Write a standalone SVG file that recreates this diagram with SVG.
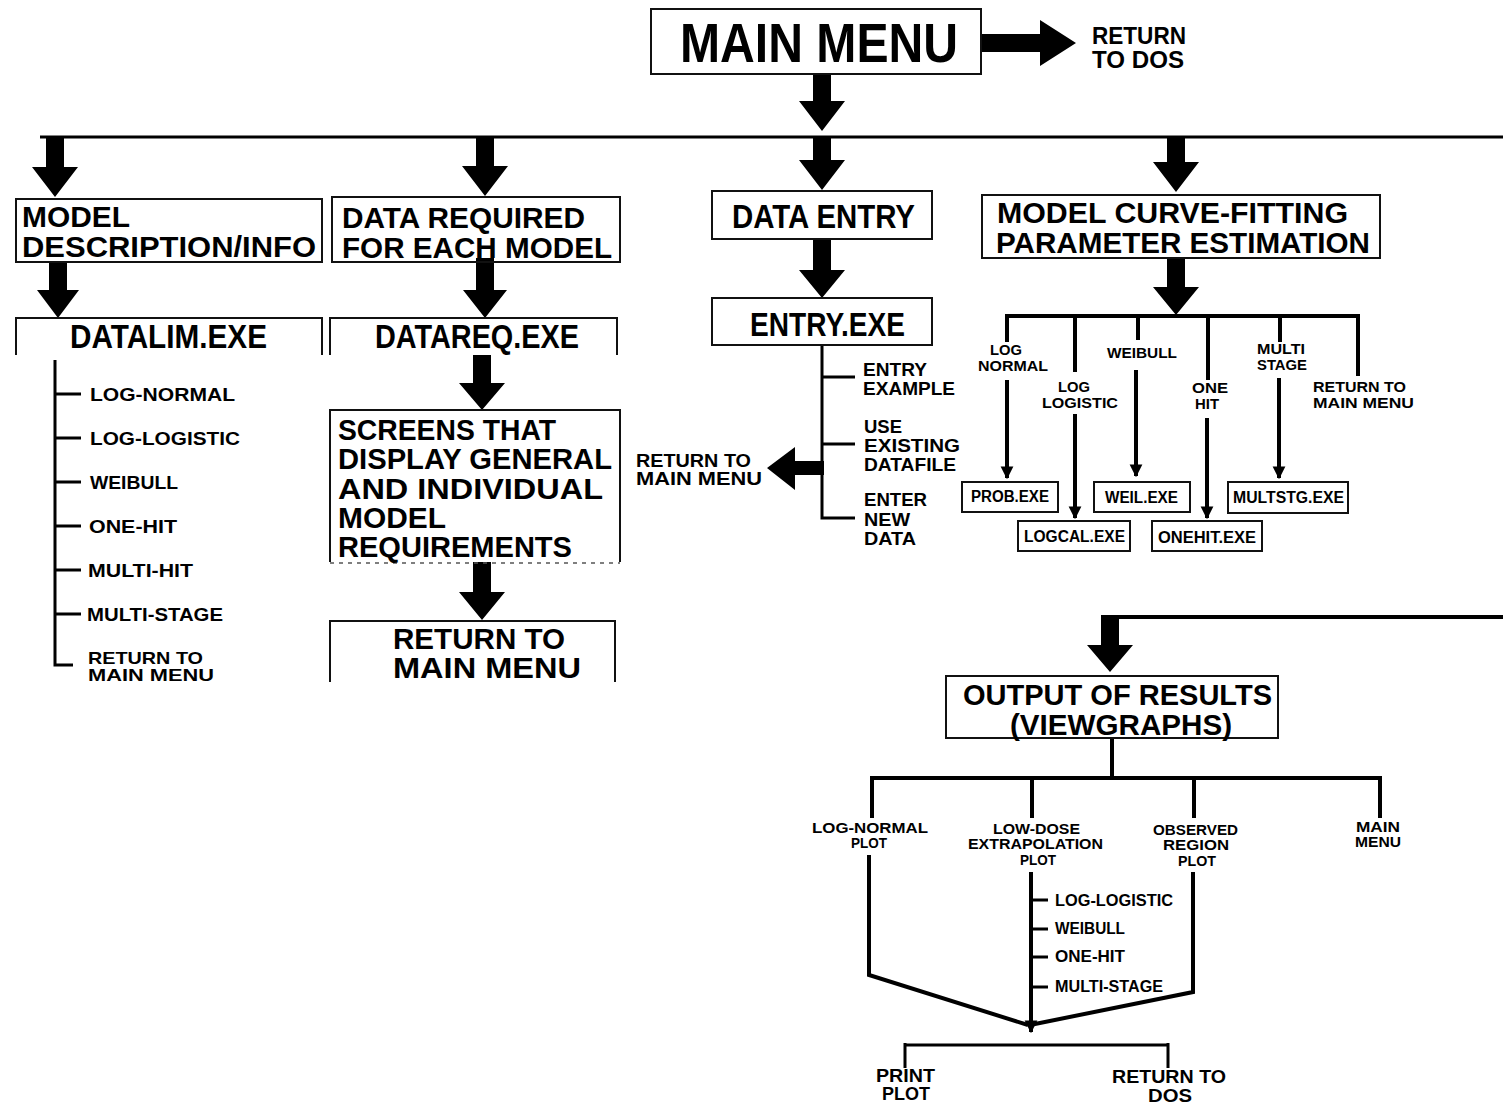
<svg xmlns="http://www.w3.org/2000/svg" width="1503" height="1105" viewBox="0 0 1503 1105">
<defs>
<style>
text{font-family:"Liberation Sans",Arial,sans-serif;font-weight:bold;fill:#000}
.box{fill:none;stroke:#111;stroke-width:2}
.dot{fill:none;stroke:#555;stroke-width:1.5;stroke-dasharray:4 5}
.fat{fill:#000;stroke:none}
.ln{fill:none;stroke:#000;stroke-width:3}
.ln4{fill:none;stroke:#000;stroke-width:4}
.h1{font-size:56px}
.h2{font-size:33px}
.h2b{font-size:29px}
.h3{font-size:24px}
.s19{font-size:19px}
.s18{font-size:18px}
.s17{font-size:17px}
.s16{font-size:16px}
.s15{font-size:15px}
</style>
<marker id="ah" viewBox="0 0 10 10" refX="9" refY="5" markerWidth="3.2" markerHeight="3.6" orient="auto" markerUnits="strokeWidth">
<path d="M0,0 L10,5 L0,10 Z" fill="#000"/>
</marker>
</defs>
<rect width="1503" height="1105" fill="#fff"/>

<g id="connectors">
<line class="ln" x1="40" y1="137" x2="1503" y2="137"/>
<path class="fat" d="M981,34 H1040 V20 L1076,43 L1040,66 V52 H981 Z"/>
<path class="fat" d="M813,74 H831 V101 H845 L822,131 L799,101 H813 Z"/>
<path class="fat" d="M46,137 H64 V167 H78 L55,197 L32,167 H46 Z"/>
<path class="fat" d="M476,137 H494 V166 H508 L485,196 L462,166 H476 Z"/>
<path class="fat" d="M813,137 H831 V160 H845 L822,190 L799,160 H813 Z"/>
<path class="fat" d="M1167,137 H1185 V162 H1199 L1176,192 L1153,162 H1167 Z"/>
<path class="fat" d="M49,262 H67 V290 H79 L58,318 L37,290 H49 Z"/>
<path class="fat" d="M476,258 H494 V290 H507 L485,318 L463,290 H476 Z"/>
<path class="fat" d="M473,355 H491 V383 H505 L482,410 L459,383 H473 Z"/>
<path class="fat" d="M473,562 H491 V592 H505 L482,620 L459,592 H473 Z"/>
<path class="fat" d="M813,239 H831 V270 H845 L822,298 L799,270 H813 Z"/>
<path class="fat" d="M1167,258 H1185 V287 H1199 L1176,315 L1153,287 H1167 Z"/>
<path class="fat" d="M1101,615 H1119 V645 H1133 L1110,672 L1087,645 H1101 Z"/>
<line class="ln4" x1="1110" y1="617" x2="1503" y2="617"/>
<path class="fat" d="M824,461 V475 H795 V490 L767,468 L795,447 V461 Z"/>

<path class="ln" d="M55,360 V665 H73"/>
<path class="ln" d="M55,394 H81 M55,438 H81 M55,482 H81 M55,526 H81 M55,570 H81 M55,614 H81"/>

<path class="ln" d="M822,345 V518 H855 M822,377 H855 M822,444 H855"/>

<path class="ln4" d="M1005,316 H1360"/>
<path class="ln4" d="M1007,314 V342 M1075,314 V372 M1138,314 V340 M1208,314 V380 M1280,314 V342 M1358,314 V376"/>
<path class="ln4" d="M1007,380 V478" marker-end="url(#ah)"/>
<path class="ln4" d="M1075,414 V518" marker-end="url(#ah)"/>
<path class="ln4" d="M1136,370 V476" marker-end="url(#ah)"/>
<path class="ln4" d="M1207,418 V518" marker-end="url(#ah)"/>
<path class="ln4" d="M1279,378 V478" marker-end="url(#ah)"/>

<path class="ln4" d="M1112,738 V778"/>
<path class="ln4" d="M870,778 H1382"/>
<path class="ln4" d="M872,776 V818 M1032,776 V818 M1194,776 V818 M1380,776 V818"/>
<path class="ln4" d="M869,855 V975 L1028,1025"/>
<path class="ln4" d="M1193,872 V992 L1030,1025"/>
<path class="ln4" d="M1031,872 V1032" marker-end="url(#ah)"/>
<path class="ln" d="M1031,900 H1048 M1031,929 H1048 M1031,957 H1048 M1031,987 H1048"/>
<path class="ln" d="M904,1045 H1169 M905,1043 V1068 M1168,1043 V1068"/>
</g>

<g id="main-menu">
<rect class="box" x="651" y="9" width="330" height="65"/>
<text class="h1" x="680" y="62" textLength="278" lengthAdjust="spacingAndGlyphs">MAIN MENU</text>
</g>
<g id="return-dos-top">
<text class="h3" x="1092" y="44" textLength="94" lengthAdjust="spacingAndGlyphs">RETURN</text>
<text class="h3" x="1092" y="68" textLength="92" lengthAdjust="spacingAndGlyphs">TO DOS</text>
</g>

<g id="model-desc">
<rect class="box" x="16" y="199" width="306" height="63"/>
<text class="h2b" x="22" y="227" textLength="108" lengthAdjust="spacingAndGlyphs">MODEL</text>
<text class="h2b" x="22" y="257" textLength="294" lengthAdjust="spacingAndGlyphs">DESCRIPTION/INFO</text>
</g>
<g id="data-required">
<rect class="box" x="332" y="197" width="288" height="65"/>
<text class="h2b" x="342" y="228" textLength="243" lengthAdjust="spacingAndGlyphs">DATA REQUIRED</text>
<text class="h2b" x="342" y="258" textLength="270" lengthAdjust="spacingAndGlyphs">FOR EACH MODEL</text>
</g>
<g id="data-entry">
<rect class="box" x="712" y="191" width="220" height="48"/>
<text class="h2" x="732" y="228" textLength="183" lengthAdjust="spacingAndGlyphs">DATA ENTRY</text>
</g>
<g id="curve-fitting">
<rect class="box" x="982" y="195" width="398" height="63"/>
<text class="h2b" x="997" y="223" textLength="351" lengthAdjust="spacingAndGlyphs">MODEL CURVE-FITTING</text>
<text class="h2b" x="996" y="253" textLength="374" lengthAdjust="spacingAndGlyphs">PARAMETER ESTIMATION</text>
</g>

<g id="datalim">
<path class="box" d="M16,355 V318 H322 V355"/>
<text class="h2" x="70" y="348" textLength="197" lengthAdjust="spacingAndGlyphs">DATALIM.EXE</text>
</g>
<g id="datalim-list">
<text class="s19" x="90" y="401" textLength="145" lengthAdjust="spacingAndGlyphs">LOG-NORMAL</text>
<text class="s19" x="90" y="445" textLength="150" lengthAdjust="spacingAndGlyphs">LOG-LOGISTIC</text>
<text class="s19" x="90" y="489" textLength="88" lengthAdjust="spacingAndGlyphs">WEIBULL</text>
<text class="s19" x="89" y="533" textLength="88" lengthAdjust="spacingAndGlyphs">ONE-HIT</text>
<text class="s19" x="88" y="577" textLength="105" lengthAdjust="spacingAndGlyphs">MULTI-HIT</text>
<text class="s19" x="87" y="621" textLength="136" lengthAdjust="spacingAndGlyphs">MULTI-STAGE</text>
<text class="s17" x="88" y="664" textLength="115" lengthAdjust="spacingAndGlyphs">RETURN TO</text>
<text class="s17" x="88" y="681" textLength="126" lengthAdjust="spacingAndGlyphs">MAIN MENU</text>
</g>

<g id="datareq">
<path class="box" d="M330,355 V318 H617 V355"/>
<text class="h2" x="375" y="348" textLength="204" lengthAdjust="spacingAndGlyphs">DATAREQ.EXE</text>
</g>
<g id="screens">
<path class="box" d="M330,562 V410 H620 V562"/>
<line class="dot" x1="330" y1="563" x2="620" y2="563"/>
<text class="h2b" x="338" y="440" textLength="218" lengthAdjust="spacingAndGlyphs">SCREENS THAT</text>
<text class="h2b" x="338" y="469" textLength="274" lengthAdjust="spacingAndGlyphs">DISPLAY GENERAL</text>
<text class="h2b" x="338" y="499" textLength="265" lengthAdjust="spacingAndGlyphs">AND INDIVIDUAL</text>
<text class="h2b" x="338" y="528" textLength="108" lengthAdjust="spacingAndGlyphs">MODEL</text>
<text class="h2b" x="338" y="557" textLength="234" lengthAdjust="spacingAndGlyphs">REQUIREMENTS</text>
</g>
<g id="return-main-2">
<path class="box" d="M330,682 V621 H615 V682"/>
<text class="h2b" x="393" y="649" textLength="172" lengthAdjust="spacingAndGlyphs">RETURN TO</text>
<text class="h2b" x="393" y="678" textLength="188" lengthAdjust="spacingAndGlyphs">MAIN MENU</text>
</g>

<g id="entry-exe">
<rect class="box" x="712" y="298" width="220" height="47"/>
<text class="h2" x="750" y="336" textLength="155" lengthAdjust="spacingAndGlyphs">ENTRY.EXE</text>
</g>
<g id="entry-options">
<text class="s19" x="863" y="376" textLength="64" lengthAdjust="spacingAndGlyphs">ENTRY</text>
<text class="s19" x="863" y="395" textLength="92" lengthAdjust="spacingAndGlyphs">EXAMPLE</text>
<text class="s19" x="864" y="433" textLength="38" lengthAdjust="spacingAndGlyphs">USE</text>
<text class="s19" x="864" y="452" textLength="96" lengthAdjust="spacingAndGlyphs">EXISTING</text>
<text class="s19" x="864" y="471" textLength="92" lengthAdjust="spacingAndGlyphs">DATAFILE</text>
<text class="s19" x="864" y="506" textLength="63" lengthAdjust="spacingAndGlyphs">ENTER</text>
<text class="s19" x="864" y="526" textLength="46" lengthAdjust="spacingAndGlyphs">NEW</text>
<text class="s19" x="864" y="545" textLength="52" lengthAdjust="spacingAndGlyphs">DATA</text>
</g>
<g id="return-main-entry">
<text class="s18" x="636" y="467" textLength="115" lengthAdjust="spacingAndGlyphs">RETURN TO</text>
<text class="s18" x="636" y="485" textLength="126" lengthAdjust="spacingAndGlyphs">MAIN MENU</text>
</g>

<g id="fit-labels">
<text class="s15" x="990" y="355" textLength="32" lengthAdjust="spacingAndGlyphs">LOG</text>
<text class="s15" x="978" y="371" textLength="70" lengthAdjust="spacingAndGlyphs">NORMAL</text>
<text class="s15" x="1058" y="392" textLength="32" lengthAdjust="spacingAndGlyphs">LOG</text>
<text class="s15" x="1042" y="408" textLength="76" lengthAdjust="spacingAndGlyphs">LOGISTIC</text>
<text class="s15" x="1107" y="358" textLength="70" lengthAdjust="spacingAndGlyphs">WEIBULL</text>
<text class="s15" x="1192" y="393" textLength="36" lengthAdjust="spacingAndGlyphs">ONE</text>
<text class="s15" x="1195" y="409" textLength="24" lengthAdjust="spacingAndGlyphs">HIT</text>
<text class="s15" x="1257" y="354" textLength="48" lengthAdjust="spacingAndGlyphs">MULTI</text>
<text class="s15" x="1257" y="370" textLength="50" lengthAdjust="spacingAndGlyphs">STAGE</text>
<text class="s15" x="1313" y="392" textLength="93" lengthAdjust="spacingAndGlyphs">RETURN TO</text>
<text class="s15" x="1313" y="408" textLength="101" lengthAdjust="spacingAndGlyphs">MAIN MENU</text>
</g>
<g id="prob-exe">
<rect class="box" x="962" y="482" width="96" height="30"/>
<text class="s16" x="971" y="502" textLength="78" lengthAdjust="spacingAndGlyphs">PROB.EXE</text>
</g>
<g id="weil-exe">
<rect class="box" x="1094" y="482" width="96" height="30"/>
<text class="s16" x="1105" y="503" textLength="73" lengthAdjust="spacingAndGlyphs">WEIL.EXE</text>
</g>
<g id="multstg-exe">
<rect class="box" x="1228" y="482" width="120" height="31"/>
<text class="s16" x="1233" y="503" textLength="111" lengthAdjust="spacingAndGlyphs">MULTSTG.EXE</text>
</g>
<g id="logcal-exe">
<rect class="box" x="1018" y="521" width="112" height="30"/>
<text class="s16" x="1024" y="542" textLength="101" lengthAdjust="spacingAndGlyphs">LOGCAL.EXE</text>
</g>
<g id="onehit-exe">
<rect class="box" x="1152" y="521" width="110" height="30"/>
<text class="s16" x="1158" y="543" textLength="98" lengthAdjust="spacingAndGlyphs">ONEHIT.EXE</text>
</g>

<g id="output">
<rect class="box" x="946" y="676" width="332" height="62"/>
<text class="h2b" x="963" y="705" textLength="309" lengthAdjust="spacingAndGlyphs">OUTPUT OF RESULTS</text>
<text class="h2b" x="1010" y="735" textLength="222" lengthAdjust="spacingAndGlyphs">(VIEWGRAPHS)</text>
</g>
<g id="output-labels">
<text class="s15" x="812" y="833" textLength="116" lengthAdjust="spacingAndGlyphs">LOG-NORMAL</text>
<text class="s15" x="851" y="848" textLength="36" lengthAdjust="spacingAndGlyphs">PLOT</text>
<text class="s15" x="993" y="834" textLength="87" lengthAdjust="spacingAndGlyphs">LOW-DOSE</text>
<text class="s15" x="968" y="849" textLength="135" lengthAdjust="spacingAndGlyphs">EXTRAPOLATION</text>
<text class="s15" x="1020" y="865" textLength="36" lengthAdjust="spacingAndGlyphs">PLOT</text>
<text class="s15" x="1153" y="835" textLength="85" lengthAdjust="spacingAndGlyphs">OBSERVED</text>
<text class="s15" x="1163" y="850" textLength="66" lengthAdjust="spacingAndGlyphs">REGION</text>
<text class="s15" x="1178" y="866" textLength="38" lengthAdjust="spacingAndGlyphs">PLOT</text>
<text class="s15" x="1356" y="832" textLength="44" lengthAdjust="spacingAndGlyphs">MAIN</text>
<text class="s15" x="1355" y="847" textLength="46" lengthAdjust="spacingAndGlyphs">MENU</text>
</g>
<g id="extrapolation-models">
<text class="s16" x="1055" y="906" textLength="118" lengthAdjust="spacingAndGlyphs">LOG-LOGISTIC</text>
<text class="s16" x="1055" y="934" textLength="70" lengthAdjust="spacingAndGlyphs">WEIBULL</text>
<text class="s16" x="1055" y="962" textLength="70" lengthAdjust="spacingAndGlyphs">ONE-HIT</text>
<text class="s16" x="1055" y="992" textLength="108" lengthAdjust="spacingAndGlyphs">MULTI-STAGE</text>
</g>
<g id="print-plot">
<text class="s18" x="876" y="1082" textLength="59" lengthAdjust="spacingAndGlyphs">PRINT</text>
<text class="s18" x="882" y="1100" textLength="48" lengthAdjust="spacingAndGlyphs">PLOT</text>
</g>
<g id="return-dos-bottom">
<text class="s18" x="1112" y="1083" textLength="114" lengthAdjust="spacingAndGlyphs">RETURN TO</text>
<text class="s18" x="1148" y="1102" textLength="44" lengthAdjust="spacingAndGlyphs">DOS</text>
</g>
</svg>
